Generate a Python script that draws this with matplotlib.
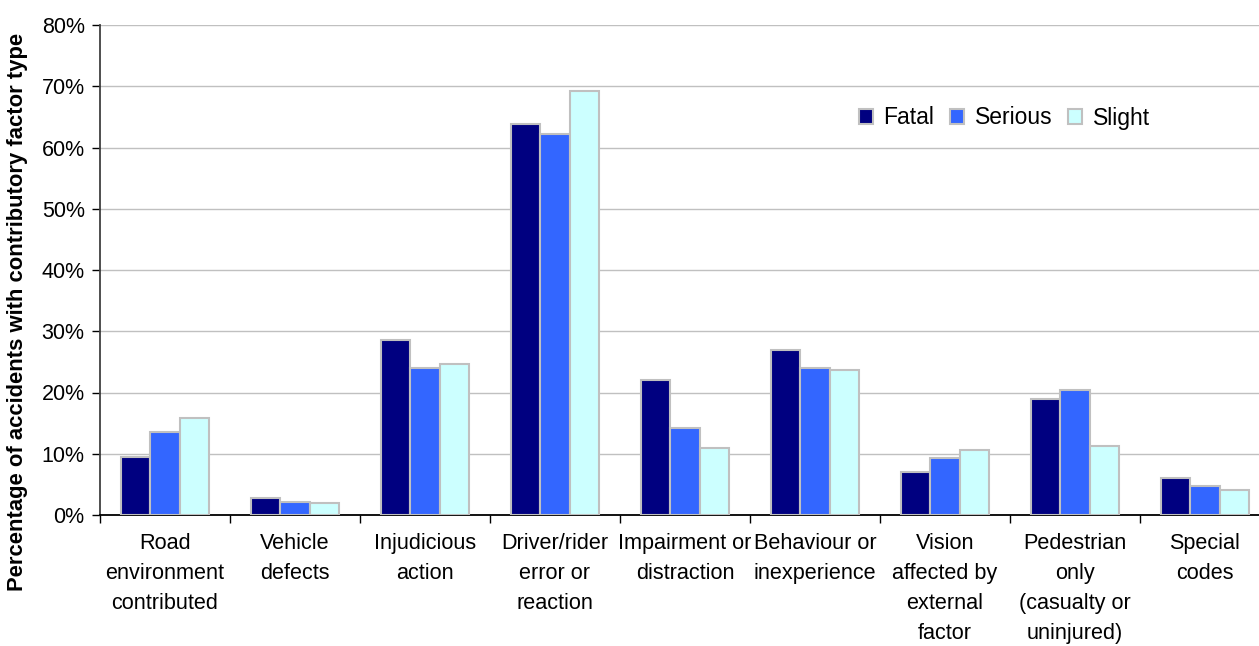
import numpy as np
import matplotlib
matplotlib.use('Agg')
import matplotlib.pyplot as plt
from matplotlib.ticker import FixedLocator, NullFormatter, PercentFormatter

plt.rcParams['font.family'] = ['Liberation Sans', 'DejaVu Sans']

categories = ['Road\nenvironment\ncontributed', 'Vehicle\ndefects', 'Injudicious\naction',
              'Driver/rider\nerror or\nreaction', 'Impairment or\ndistraction',
              'Behaviour or\ninexperience', 'Vision\naffected by\nexternal\nfactor',
              'Pedestrian\nonly\n(casualty or\nuninjured)', 'Special\ncodes']
fatal = [9.4, 2.7, 28.5, 63.8, 22.0, 26.9, 7.0, 19.0, 6.0]
serious = [13.6, 2.1, 24.0, 62.2, 14.2, 24.0, 9.3, 20.4, 4.7]
slight = [15.9, 1.9, 24.7, 69.2, 11.0, 23.7, 10.6, 11.3, 4.1]
series = ['Fatal', 'Serious', 'Slight']
colors = ['#000080', '#3366ff', '#ccffff']

fig = plt.figure(figsize=(12.59, 6.46), dpi=100)
# axes runs a little past the right edge, as in the original crop
ax = fig.add_axes([100 / 1259, 1 - 515 / 646, 1170 / 1259, 490 / 646])

x = np.arange(len(categories))
w = 0.227
for i, (vals, name, c) in enumerate(zip([fatal, serious, slight], series, colors)):
    ax.bar(x + (i - 1) * w, vals, w, color=c, edgecolor='#c0c0c0', linewidth=1.5,
           label=name, zorder=3)

ax.set_xlim(-0.5, len(categories) - 0.5)
ax.set_ylim(0, 80)
ax.set_yticks(np.arange(0, 81, 10))
ax.yaxis.set_major_formatter(PercentFormatter(decimals=0))
ax.yaxis.grid(True, color='#c0c0c0', linewidth=1, zorder=0)

ax.xaxis.set_major_locator(FixedLocator(np.arange(-0.5, len(categories), 1.0)))
ax.xaxis.set_major_formatter(NullFormatter())
ax.xaxis.set_minor_locator(FixedLocator(x))
ax.set_xticklabels(categories, minor=True)
ax.tick_params(axis='x', which='minor', length=0, pad=13, labelsize=15.6)
ax.tick_params(axis='x', which='major', length=6, width=1, direction='out')
ax.tick_params(axis='y', length=6, width=1, direction='out', labelsize=15.5, pad=5)
for lbl in ax.get_xticklabels(minor=True):
    lbl.set_linespacing(1.56)

ax.spines['top'].set_visible(False)
ax.spines['right'].set_visible(False)
ax.spines['left'].set_color('#404040')
ax.spines['left'].set_linewidth(1.3)
ax.spines['bottom'].set_linewidth(1.3)

ax.set_ylabel('Percentage of accidents with contributory factor type', fontsize=15.8,
              fontweight='bold')
ax.yaxis.set_label_coords(-72 / 1170, 0.414)

ax.legend(loc='center left', bbox_to_anchor=(738 / 1170, (515 - 118) / 490), ncol=3,
          frameon=False, fontsize=16.5, handlelength=0.62, handleheight=0.62,
          handletextpad=0.45, columnspacing=0.7)

fig.savefig('out.png', dpi=100)
